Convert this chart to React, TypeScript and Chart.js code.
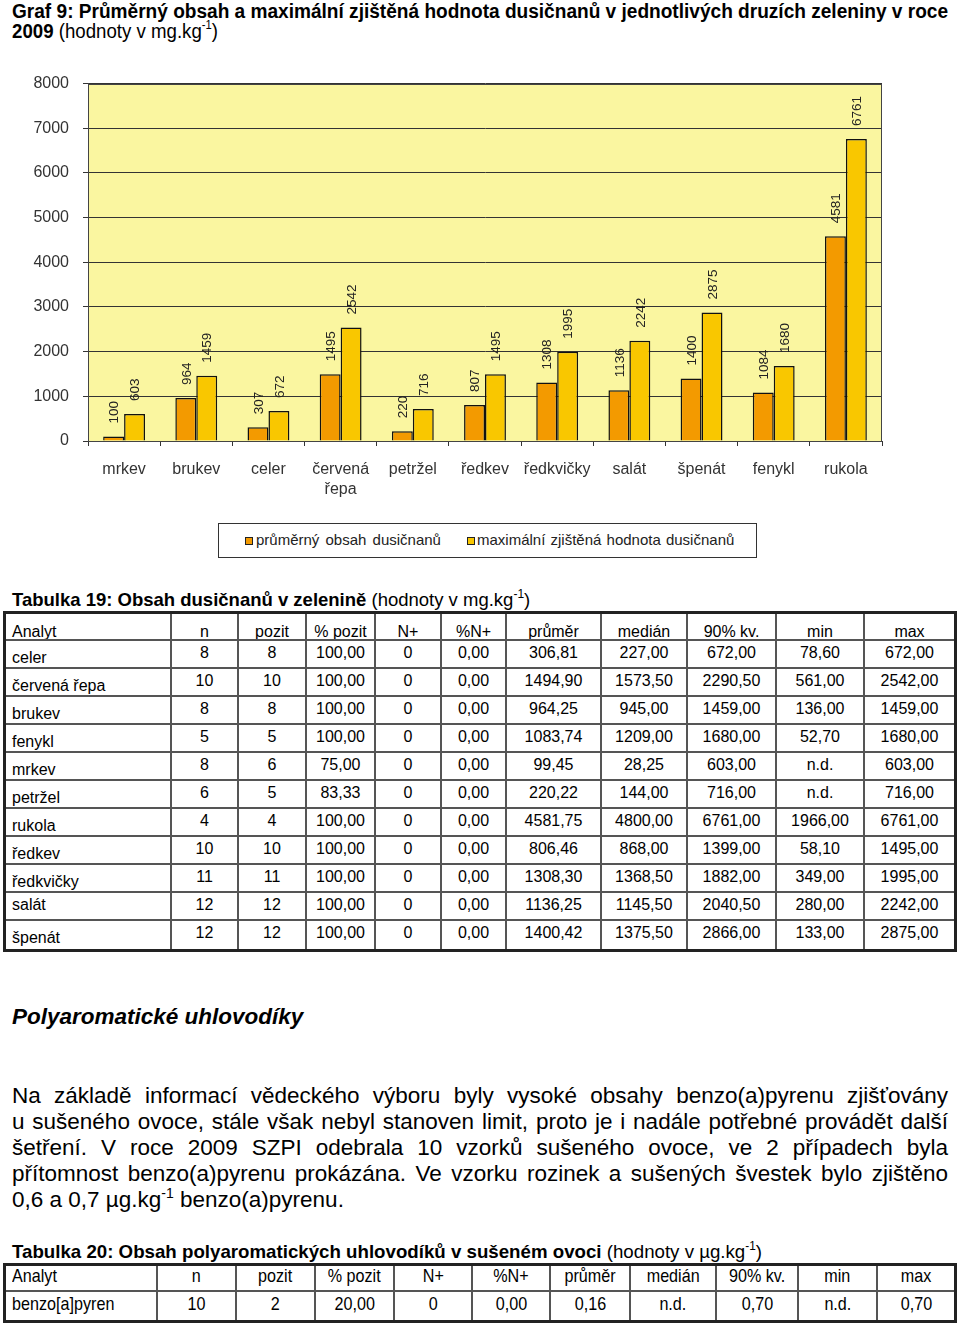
import React, { useEffect, useRef } from 'react';
import { Chart, registerables } from 'chart.js';

Chart.register(...registerables);

document.body.style.margin = '0';
document.body.style.overflow = 'hidden';

// ---------- chart data ----------
const categories: (string | string[])[] = [
  'mrkev', 'brukev', 'celer', ['červená', 'řepa'], 'petržel', 'ředkev',
  'ředkvičky', 'salát', 'špenát', 'fenykl', 'rukola',
];
const meanValues = [100, 964, 307, 1495, 220, 807, 1308, 1136, 1400, 1084, 4581];
const maxValues = [603, 1459, 672, 2542, 716, 1495, 1995, 2242, 2875, 1680, 6761];
const seriesNames = ['průměrný obsah dusičnanů', 'maximální zjištěná hodnota dusičnanů'];
const yMin = 0;
const yMax = 8000;
const yStep = 1000;

// ---------- table data ----------
const tableHeader = ['Analyt', 'n', 'pozit', '% pozit', 'N+', '%N+', 'průměr', 'medián', '90% kv.', 'min', 'max'];
const table19Rows = [
  ['celer', '8', '8', '100,00', '0', '0,00', '306,81', '227,00', '672,00', '78,60', '672,00'],
  ['červená řepa', '10', '10', '100,00', '0', '0,00', '1494,90', '1573,50', '2290,50', '561,00', '2542,00'],
  ['brukev', '8', '8', '100,00', '0', '0,00', '964,25', '945,00', '1459,00', '136,00', '1459,00'],
  ['fenykl', '5', '5', '100,00', '0', '0,00', '1083,74', '1209,00', '1680,00', '52,70', '1680,00'],
  ['mrkev', '8', '6', '75,00', '0', '0,00', '99,45', '28,25', '603,00', 'n.d.', '603,00'],
  ['petržel', '6', '5', '83,33', '0', '0,00', '220,22', '144,00', '716,00', 'n.d.', '716,00'],
  ['rukola', '4', '4', '100,00', '0', '0,00', '4581,75', '4800,00', '6761,00', '1966,00', '6761,00'],
  ['ředkev', '10', '10', '100,00', '0', '0,00', '806,46', '868,00', '1399,00', '58,10', '1495,00'],
  ['ředkvičky', '11', '11', '100,00', '0', '0,00', '1308,30', '1368,50', '1882,00', '349,00', '1995,00'],
  ['salát', '12', '12', '100,00', '0', '0,00', '1136,25', '1145,50', '2040,50', '280,00', '2242,00'],
  ['špenát', '12', '12', '100,00', '0', '0,00', '1400,42', '1375,50', '2866,00', '133,00', '2875,00'],
];
const table20Rows = [
  ['benzo[a]pyren', '10', '2', '20,00', '0', '0,00', '0,16', 'n.d.', '0,70', 'n.d.', '0,70'],
];
const paragraphLines = [
  'Na základě informací vědeckého výboru byly vysoké obsahy benzo(a)pyrenu zjišťovány',
  'u sušeného ovoce, stále však nebyl stanoven limit, proto je i nadále potřebné provádět další',
  'šetření. V roce 2009 SZPI odebrala 10 vzorků sušeného ovoce, ve 2 případech byla',
  'přítomnost benzo(a)pyrenu prokázána. Ve vzorku rozinek a sušených švestek bylo zjištěno',
];

// ---------- styles ----------
const FONT = "'Liberation Sans', Arial, Helvetica, sans-serif";
const NARROW = "'Liberation Sans Narrow', 'Arial Narrow', 'Liberation Sans', Arial, sans-serif";
const MEAN_COLOR = '#F39A00';
const MAX_COLOR = '#F9C700';
const PLOT_BG = '#FAF6A0';
const colW19 = [166, 67, 68, 69, 66, 65, 95, 86, 89, 88, 89];
const colW20 = [152, 79, 79, 79, 78, 78, 80, 86, 82, 79, 76];

const plotBgPlugin = {
  id: 'plotBg',
  beforeDraw(chart: any) {
    const { ctx, chartArea: a } = chart;
    ctx.save();
    ctx.fillStyle = PLOT_BG;
    ctx.fillRect(a.left, a.top, a.right - a.left, a.bottom - a.top);
    ctx.restore();
  },
  afterDraw(chart: any) {
    const { ctx, chartArea: a } = chart;
    ctx.save();
    ctx.strokeStyle = '#444';
    ctx.lineWidth = 1;
    ctx.strokeRect(Math.round(a.left) + 0.5, Math.round(a.top) + 0.5, Math.round(a.right - a.left) - 1, Math.round(a.bottom - a.top));
    ctx.restore();
  },
};

const barLabelPlugin = {
  id: 'barLabels',
  afterDatasetsDraw(chart: any) {
    const ctx = chart.ctx;
    chart.data.datasets.forEach((ds: any, i: number) => {
      const meta = chart.getDatasetMeta(i);
      meta.data.forEach((el: any, j: number) => {
        const { x, y } = el.getProps(['x', 'y'], true);
        ctx.save();
        ctx.translate(x, y - 13);
        ctx.rotate(-Math.PI / 2);
        ctx.font = `13.5px ${FONT}`;
        ctx.fillStyle = '#222';
        ctx.textAlign = 'left';
        ctx.textBaseline = 'middle';
        ctx.fillText(String(ds.data[j]), 0, 1);
        ctx.restore();
      });
    });
  },
};

function BarChart() {
  const ref = useRef<HTMLCanvasElement>(null);
  useEffect(() => {
    if (!ref.current) return;
    const chart = new Chart(ref.current, {
      type: 'bar',
      data: {
        labels: categories,
        datasets: [
          {
            label: seriesNames[0],
            data: meanValues,
            backgroundColor: MEAN_COLOR,
            borderColor: '#111',
            borderWidth: 1.5,
            barPercentage: 1,
            categoryPercentage: 0.58,
          },
          {
            label: seriesNames[1],
            data: maxValues,
            backgroundColor: MAX_COLOR,
            borderColor: '#111',
            borderWidth: 1.5,
            barPercentage: 1,
            categoryPercentage: 0.58,
          },
        ],
      },
      options: {
        animation: false,
        responsive: false,
        layout: { padding: { top: 23, right: 18, left: 0, bottom: 0 } },
        plugins: { legend: { display: false }, tooltip: { enabled: false } },
        scales: {
          x: {
            grid: { display: true, drawOnChartArea: false, drawTicks: true, tickLength: 5, color: '#333', offset: true },
            border: { display: true, color: '#333', width: 1 },
            ticks: {
              font: { size: 16, family: FONT, lineHeight: 1.25 },
              color: '#333',
              padding: 14,
              maxRotation: 0,
              autoSkip: false,
            },
            afterFit: (s: any) => { s.height = 64; },
          },
          y: {
            min: yMin,
            max: yMax,
            ticks: {
              stepSize: yStep,
              font: { size: 16, family: FONT },
              color: '#333',
              padding: 14,
              callback: (v: any) => String(v),
            },
            grid: { color: '#333', tickLength: 5, drawTicks: true },
            border: { display: true, color: '#444' },
            afterFit: (s: any) => { s.width = 88; },
          },
        },
      } as any,
      plugins: [plotBgPlugin, barLabelPlugin],
    });
    return () => chart.destroy();
  }, []);
  return <canvas ref={ref} width={900} height={445} style={{ display: 'block' }} />;
}

function Sup({ children, top = -8, size = 12 }: any) {
  return (
    <span style={{ fontSize: size, position: 'relative', top, fontWeight: 'normal' }}>{children}</span>
  );
}

function Table19() {
  const cells: React.ReactNode[] = [];
  const nRows = table19Rows.length + 1;
  const all = [tableHeader, ...table19Rows];
  all.forEach((row, r) => {
    row.forEach((txt, c) => {
      const isHeader = r === 0;
      const isName = c === 0;
      let padTop = 3;
      if (isHeader) padTop = 9;
      else if (isName) padTop = row[0] === 'salát' ? 3 : 8;
      cells.push(
        <div
          key={`${r}-${c}`}
          style={{
            boxSizing: 'border-box',
            borderRight: c < row.length - 1 ? '2px solid #555' : 'none',
            borderBottom: r < nRows - 1 ? '2px solid #555' : 'none',
            paddingTop: padTop,
            paddingLeft: isName ? 6 : 0,
            textAlign: isName ? 'left' : 'center',
            fontSize: 16,
            lineHeight: '18px',
            whiteSpace: 'nowrap',
            overflow: 'hidden',
          }}
        >
          {txt}
        </div>
      );
    });
  });
  return (
    <div
      style={{
        position: 'absolute', left: 3, top: 611, width: 954, height: 341,
        boxSizing: 'border-box', border: '3px solid #222',
        display: 'grid',
        gridTemplateColumns: colW19.map((w) => w + 'px').join(' '),
        gridTemplateRows: `27px repeat(${table19Rows.length}, 28px)`,
        fontFamily: FONT, color: '#000',
      }}
    >
      {cells}
    </div>
  );
}

function Table20() {
  const cells: React.ReactNode[] = [];
  const all = [tableHeader, ...table20Rows];
  all.forEach((row, r) => {
    row.forEach((txt, c) => {
      const isName = c === 0;
      cells.push(
        <div
          key={`${r}-${c}`}
          style={{
            boxSizing: 'border-box',
            borderRight: c < row.length - 1 ? '2px solid #555' : 'none',
            borderBottom: r < all.length - 1 ? '2px solid #555' : 'none',
            paddingTop: r === 0 ? 0 : 2,
            paddingLeft: isName ? 6 : 0,
            textAlign: isName ? 'left' : 'center',
            fontSize: 19,
            lineHeight: '20px',
            whiteSpace: 'nowrap',
          }}
        >
          <span style={{ display: 'inline-block', transform: 'scaleX(0.85)', transformOrigin: isName ? 'left center' : 'center center' }}>{txt}</span>
        </div>
      );
    });
  });
  return (
    <div
      style={{
        position: 'absolute', left: 3, top: 1263, width: 954, height: 60,
        boxSizing: 'border-box', border: '3px solid #222',
        display: 'grid',
        gridTemplateColumns: colW20.map((w) => w + 'px').join(' '),
        gridTemplateRows: '26px 28px',
        fontFamily: FONT, color: '#000',
      }}
    >
      {cells}
    </div>
  );
}

export default function App() {
  return (
    <div style={{ position: 'relative', width: 960, height: 1325, background: '#fff', overflow: 'hidden', fontFamily: FONT, color: '#000' }}>
      {/* Title */}
      <svg width={960} height={45} style={{ position: 'absolute', left: 0, top: 0 }}>
        <text x={12} y={18} textLength={936} lengthAdjust="spacingAndGlyphs" fontFamily={NARROW} fontSize={20} fontWeight="bold" fill="#000">
          Graf 9: Průměrný obsah a maximální zjištěná hodnota dusičnanů v jednotlivých druzích zeleniny v roce
        </text>
        <text x={12} y={38} textLength={206} lengthAdjust="spacingAndGlyphs" fontFamily={NARROW} fontSize={20} fill="#000">
          <tspan fontWeight="bold">2009</tspan>
          <tspan> (hodnoty v mg.kg</tspan>
          <tspan fontSize={12} dy={-9}>-1</tspan>
          <tspan dy={9}>)</tspan>
        </text>
      </svg>

      {/* Chart */}
      <div style={{ position: 'absolute', left: 0, top: 60, width: 900, height: 445 }}>
        <BarChart />
      </div>

      {/* Legend */}
      <div style={{ position: 'absolute', left: 218, top: 523, width: 539, height: 35, boxSizing: 'border-box', border: '1px solid #333', background: '#fff' }}>
        <div style={{ position: 'absolute', left: 26, top: 13, width: 8, height: 8, boxSizing: 'border-box', border: '1px solid #222', background: MEAN_COLOR }} />
        <div style={{ position: 'absolute', left: 37, top: 7, fontSize: 15, lineHeight: '18px', wordSpacing: 2, color: '#222', whiteSpace: 'nowrap' }}>{seriesNames[0]}</div>
        <div style={{ position: 'absolute', left: 248, top: 13, width: 8, height: 8, boxSizing: 'border-box', border: '1px solid #222', background: MAX_COLOR }} />
        <div style={{ position: 'absolute', left: 258, top: 7, fontSize: 15, lineHeight: '18px', wordSpacing: 1, color: '#222', whiteSpace: 'nowrap' }}>{seriesNames[1]}</div>
      </div>

      {/* Table 19 caption */}
      <div style={{ position: 'absolute', left: 12, top: 589, fontSize: 18.5, lineHeight: '22px', whiteSpace: 'nowrap' }}>
        <b>Tabulka 19: Obsah dusičnanů v zelenině</b> (hodnoty v mg.kg<Sup size={12} top={-8}>-1</Sup>)
      </div>
      <Table19 />

      {/* Section heading */}
      <div style={{ position: 'absolute', left: 12, top: 1004, fontSize: 22.5, lineHeight: '26px', fontWeight: 'bold', fontStyle: 'italic', whiteSpace: 'nowrap' }}>
        Polyaromatické uhlovodíky
      </div>

      {/* Paragraph */}
      {paragraphLines.map((line, i) => (
        <div
          key={i}
          style={{
            position: 'absolute', left: 12, top: 1083 + i * 26, width: 936,
            fontSize: 22.5, lineHeight: '26px', textAlign: 'justify', textAlignLast: 'justify' as any, whiteSpace: 'nowrap',
          }}
        >
          {line}
        </div>
      ))}
      <div style={{ position: 'absolute', left: 12, top: 1083 + 4 * 26, fontSize: 22.5, lineHeight: '26px', whiteSpace: 'nowrap' }}>
        0,6 a 0,7 µg.kg<Sup size={14} top={-9}>-1</Sup> benzo(a)pyrenu.
      </div>

      {/* Table 20 caption */}
      <svg width={960} height={30} style={{ position: 'absolute', left: 0, top: 1236 }}>
        <text x={12} y={22} textLength={750} lengthAdjust="spacingAndGlyphs" fontFamily={NARROW} fontSize={19} fill="#000">
          <tspan fontWeight="bold">Tabulka 20: Obsah polyaromatických uhlovodíků v sušeném ovoci</tspan>
          <tspan> (hodnoty v µg.kg</tspan>
          <tspan fontSize={12} dy={-8}>-1</tspan>
          <tspan dy={8}>)</tspan>
        </text>
      </svg>
      <Table20 />
    </div>
  );
}
